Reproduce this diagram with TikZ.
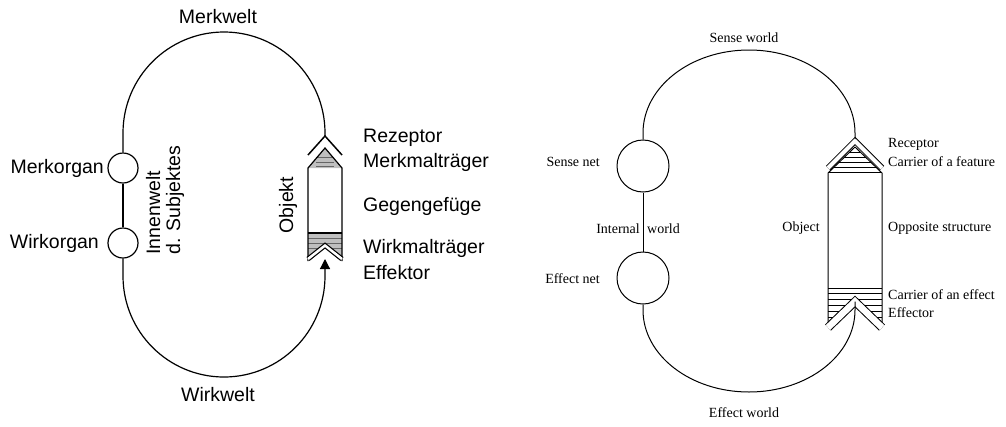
\documentclass[tikz,border=0pt]{standalone}
\usepackage{fontspec}
\setmainfont{Liberation Serif}
\newfontfamily\lsans{Liberation Sans}
\usetikzlibrary{arrows.meta}
\begin{document}
\begin{tikzpicture}[x=1pt,y=1pt,
  lab/.style={font=\lsans\fontsize{19.5}{20}\selectfont, inner sep=0pt},
  rlab/.style={font=\fontsize{14}{16}\selectfont, inner sep=0pt},
  organ/.style={draw, circle, line width=1.2pt, minimum size=30pt, inner sep=0pt},
  net/.style={draw, circle, line width=1pt, minimum size=52pt, inner sep=0pt},
  ln/.style={line width=1.2pt},
  rln/.style={line width=1pt},
  stripe/.style={line width=0.8pt}]
\useasboundingbox (0,0) rectangle (1006,-426);

% ---------------- left diagram ----------------
\node[organ] (mo) at (123,-168) {};
\node[organ] (wo) at (123,-243) {};
\node[lab, anchor=east] (mol) at (104,-168) {Merkorgan};
\node[lab, anchor=east] (wol) at (99,-243) {Wirkorgan};
\node[lab] (mw) at (218,-17) {Merkwelt};
\node[lab] (ww) at (218,-395) {Wirkwelt};
\node[lab, rotate=90, align=left] (iw) at (165,-200) {Innenwelt\\d. Subjektes};
\node[lab, rotate=90] (ob) at (288,-205) {Objekt};
\node[lab, anchor=west] (rz) at (363,-138) {Rezeptor};
\node[lab, anchor=west] (mt) at (363,-162) {Merkmalträger};
\node[lab, anchor=west] (gg) at (363,-206) {Gegengefüge};
\node[lab, anchor=west] (wt) at (363,-248) {Wirkmalträger};
\node[lab, anchor=west] (ef) at (363,-273) {Effektor};

\coordinate (rzL) at (325,-136);
\coordinate (efL) at (325,-259);
% object body
\fill[gray!50] (308,-168) -- (325,-148) -- (342,-168) -- cycle;
\fill[gray!50] (308,-233) -- (342,-233) -- (342,-256) -- (325,-244) -- (308,-256) -- cycle;
\foreach \yy in {-238,-243,-248} \draw[gray!80!black, line width=0.5pt] (308,\yy) -- (342,\yy);
\foreach \yy in {-157,-162,-166} \draw[gray!80!black, line width=0.5pt] (316,\yy) -- (334,\yy);
\draw[ln] (308,-233) -- (342,-233);
\draw[ln] (308,-261) -- (308,-168) -- (325,-148) -- (342,-168) -- (342,-261);
\draw[ln, double, double distance=2.5pt] (308,-259) -- (325,-245.5) -- (342,-259);
\draw[ln, line width=1.5pt] (308,-155) -- (rzL) -- (342,-155);
% loops
\draw[ln] (mo.north) -- (123,-133) arc[start angle=180, end angle=0, radius=101] -- (rzL);
\draw[ln] (mo) -- (wo);
\draw[ln, -{Triangle[length=10pt,width=10pt]}] (wo.south) -- (123,-276)
  arc[start angle=180, end angle=360, radius=101] -- (efL);

% ---------------- right diagram ----------------
\node[net] (sn) at (643,-166) {};
\node[net] (en) at (643,-278) {};
\node[rlab, anchor=east] (snl) at (600,-162) {Sense net};
\node[rlab, anchor=east] (enl) at (600,-279) {Effect net};
\node[rlab, anchor=east] (iwa) at (640,-229) {Internal};
\node[rlab, anchor=west] (iwb) at (647,-229) {world};
\node[rlab] (sw) at (744,-38) {Sense world};
\node[rlab] (ew) at (744,-413) {Effect world};
\node[rlab, anchor=east] (obr) at (820,-228) {Object};
\node[rlab, anchor=west] (rcp) at (888,-144) {Receptor};
\node[rlab, anchor=west] (cf) at (888,-162) {Carrier of a feature};
\node[rlab, anchor=west] (os) at (888,-228) {Opposite structure};
\node[rlab, anchor=west] (ce) at (888,-295) {Carrier of an effect};
\node[rlab, anchor=west] (eff) at (888,-313) {Effector};

\coordinate (rzR) at (855,-139);
\coordinate (efR) at (855,-301.5);
% object body
\begin{scope}
  \clip (828,-173) -- (855,-147) -- (882,-173) -- cycle;
  \foreach \yy in {-152,-157,-162,-167,-172} \draw[stripe] (820,\yy) -- (890,\yy);
\end{scope}
\foreach \yy in {-288,-293,-299,-305,-311,-317} \draw[stripe] (828,\yy) -- (882,\yy);
\fill[white] (855,-301.5) -- (826,-330) -- (884,-330) -- cycle;
\draw[rln] (828,-323) -- (828,-173) -- (855,-147) -- (882,-173) -- (882,-323);
\draw[rln, double, double distance=4pt] (828,-168) -- (855,-141) -- (882,-168);
\draw[rln, double, double distance=6.5pt] (828,-327.5) -- (855,-301.5) -- (882,-327.5);
% loops
\draw[rln] (sn) -- (en);
\draw[rln] (sn.north) -- (643,-133)
  arc[start angle=180, end angle=0, x radius=106, y radius=83] -- (rzR);
\draw[rln] (en.south) -- (643,-310)
  arc[start angle=180, end angle=360, x radius=106, y radius=82] -- (efR);
\end{tikzpicture}
\end{document}
